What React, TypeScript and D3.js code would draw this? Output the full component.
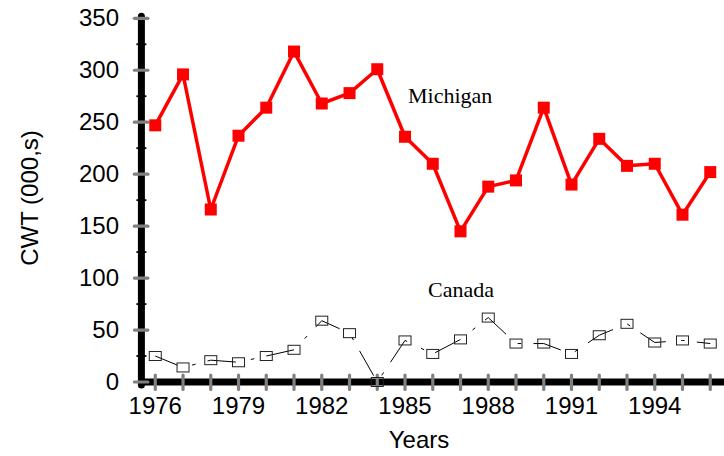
import React from "react";
import * as d3 from "d3";

const years = [1976,1977,1978,1979,1980,1981,1982,1983,1984,1985,1986,1987,1988,1989,1990,1991,1992,1993,1994,1995,1996];
const michigan = [247,296,166,237,264,318,268,278,301,236,210,145,188,194,264,190,234,208,210,161,202];
const canada = [25,14,21,19,25,31,59,47,0,40,27,41,62,37,37,27,45,56,38,40,37];
const yTicks = [0,50,100,150,200,250,300,350];
const yMinor = [25,75,125,175,225,275,325];
const xLabels = [1976,1979,1982,1985,1988,1991,1994];

export default function App() {
  const x = d3.scaleLinear().domain([1975.5, 1997]).range([141.4, 738]);
  const y = d3.scaleLinear().domain([0, 350]).range([382, 18.3]);
  const line = d3.line<number>().x((_, i) => x(years[i])).y((d) => y(d));
  const sans = "'Liberation Sans', Arial, sans-serif";
  const serif = "'Liberation Serif', 'Times New Roman', serif";
  const x0 = x(1975.5);
  return (
    <svg width={724} height={456} style={{ position: "absolute", left: 0, top: 0, background: "#fff" }}>
      {/* axes */}
      <line x1={x0} x2={x0} y1={y(350) - 2} y2={y(0) + 3} stroke="#000" strokeWidth={7} strokeLinecap="round" />
      <line x1={x0 - 3} x2={760} y1={y(0)} y2={y(0)} stroke="#000" strokeWidth={7} />
      {yMinor.map((v) => (
        <line key={"m" + v} x1={x0 - 5} x2={x0 + 5} y1={y(v)} y2={y(v)} stroke="#000" strokeWidth={1.8} />
      ))}
      {yTicks.map((v) => (
        <line key={"t" + v} x1={x0 - 7} x2={x0 + 6.5} y1={y(v)} y2={y(v)} stroke="#808080" strokeWidth={3.2} strokeLinecap="round" />
      ))}
      {years.map((yr) => (
        <line key={"x" + yr} x1={x(yr)} x2={x(yr)} y1={y(0) - 7} y2={y(0) + 7.5} stroke="#808080" strokeWidth={3.2} strokeLinecap="round" />
      ))}
      {yTicks.map((v) => (
        <text key={"l" + v} x={119} y={y(v)} dy="0.33em" textAnchor="end" fontFamily={sans} fontSize={24} fill="#000">{v}</text>
      ))}
      {xLabels.map((yr) => (
        <text key={"xl" + yr} x={x(yr)} y={413.5} textAnchor="middle" fontFamily={sans} fontSize={24} fill="#000">{yr}</text>
      ))}
      <text x={419} y={448} textAnchor="middle" fontFamily={sans} fontSize={24} fill="#000">Years</text>
      <text transform="translate(38,198) rotate(-90)" textAnchor="middle" fontFamily={sans} fontSize={24} fill="#000">CWT (000,s)</text>

      {/* Canada */}
      <path d={line(canada) || ""} fill="none" stroke="#000" strokeWidth={1} strokeDasharray="28.5 15.3 3.6 12.3" strokeDashoffset={4.4} />
      {canada.map((v, i) => (
        <rect key={"c" + i} x={x(years[i]) - 6} y={y(v) - 4.5} width={12} height={9} fill="none" stroke="#222" strokeWidth={1} />
      ))}

      {/* Michigan */}
      <path d={line(michigan) || ""} fill="none" stroke="#ff0000" strokeWidth={3.5} strokeLinejoin="round" />
      {michigan.map((v, i) => (
        <rect key={"mi" + i} x={x(years[i]) - 6} y={y(v) - 6} width={12} height={12} fill="#ff0000" />
      ))}

      <text x={408} y={103} fontFamily={serif} fontSize={22} fill="#000">Michigan</text>
      <text x={428} y={297} fontFamily={serif} fontSize={22} fill="#000">Canada</text>
    </svg>
  );
}
